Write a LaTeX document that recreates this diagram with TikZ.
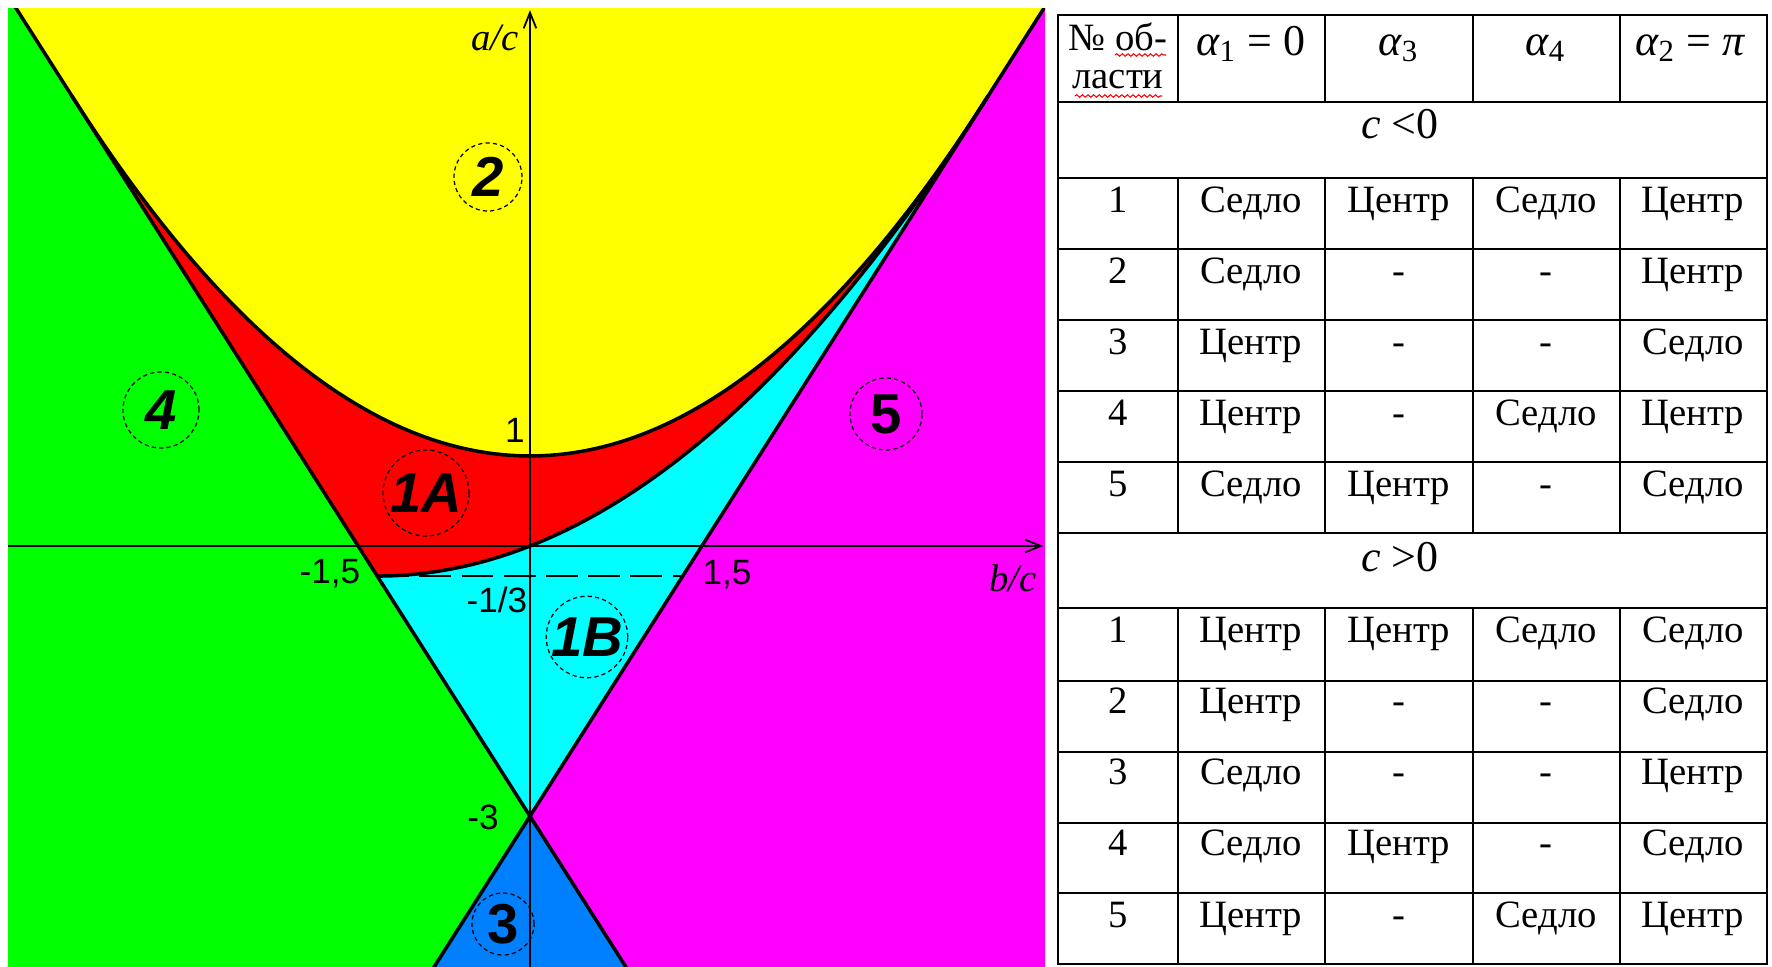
\documentclass[tikz,border=0pt]{standalone}
\usepackage{fontspec}
\setmainfont{Liberation Serif}
\newfontfamily\arial{Liberation Sans}
\usetikzlibrary{arrows.meta,decorations.pathmorphing}
\definecolor{cyel}{RGB}{255,255,0}
\definecolor{cgrn}{RGB}{0,255,0}
\definecolor{cred}{RGB}{255,0,0}
\definecolor{ccyan}{RGB}{0,255,255}
\definecolor{cmag}{RGB}{255,0,255}
\definecolor{cblue}{RGB}{0,128,255}
\begin{document}
\begin{tikzpicture}[x=0.01cm,y=-0.01cm,
  rbound/.style={line width=1pt, black, line join=round},
  axisln/.style={line width=0.6pt, -{Straight Barb[length=4.5pt,width=3.6pt,line width=0.5pt]}},
  rlabel/.style={circle, draw, line width=0.35pt, dash pattern=on 1.2pt off 0.9pt, inner sep=0pt, font=\arial\fontsize{16}{16}\selectfont\bfseries\itshape},
  rlabelup/.style={rlabel, font=\arial\fontsize{16}{16}\selectfont\bfseries},
  ticklab/.style={font=\arial\fontsize{10}{10}\selectfont, inner sep=0pt},
  axlab/.style={font=\fontsize{11}{11}\selectfont\itshape, inner sep=0pt},
  tcell/.style={font=\fontsize{11}{13}\selectfont, anchor=base, inner sep=0pt},
  thead/.style={font=\fontsize{12.5}{13}\selectfont, anchor=base, inner sep=0pt},
  tline/.style={line width=0.6pt},
  wavy/.style={red, line width=0.3pt, decorate, decoration={snake, amplitude=0.35pt, segment length=1.6pt}}
]
\useasboundingbox (0,0) rectangle (1772,966);
\fill[white] (0,0) rectangle (1772,966);

% ---------------- plot ----------------
\begin{scope}
\clip (8,8) rectangle (1045,966);
\begin{scope}[shift={(530,546)}, x=1.145cm, y=0.9cm]
  \fill[cgrn] (-4.7,6.1) -- (-4.55,6.1) -- (0,-3) -- (-0.9,-4.8) -- (-4.7,-4.8) -- cycle;
  \fill[cmag] (4.55,6.1) -- (4.7,6.1) -- (4.7,-4.8) -- (0.9,-4.8) -- (0,-3) -- cycle;
  \fill[cblue] (0,-3) -- (0.9,-4.8) -- (-0.9,-4.8) -- cycle;
  \fill[cyel] (-4.55,6.1) -- (4.55,6.1) -- (0,-3) -- cycle;
  \fill[cred] plot[domain=-4:4,samples=120] (\x,{1+\x*\x/4})
     -- plot[domain=4:-1.3333,samples=120] (\x,{3*\x*\x/16+\x/2}) -- cycle;
  \fill[ccyan] (-1.3333,-0.3333) -- (0,-3) -- (4,5)
     -- plot[domain=4:-1.3333,samples=120] (\x,{3*\x*\x/16+\x/2}) -- cycle;
  % boundaries
  \draw[rbound] (-4.6,6.2) -- (0.95,-4.9);
  \draw[rbound] (4.6,6.2) -- (-0.95,-4.9);
  \draw[rbound] plot[domain=-4:4,samples=120] (\x,{1+\x*\x/4});
  \draw[rbound] plot[domain=-1.3333:4,samples=120] (\x,{3*\x*\x/16+\x/2});
  % dashed level -1/3
  \coordinate (dl0) at (-1.3333,-0.3333);
  \coordinate (dl1) at (1.3333,-0.3333);
  \draw[line width=0.4pt, dash pattern=on 9pt off 3pt] (dl0) -- (dl1);
  % axes
  \coordinate (xa0) at (-4.7,0);
  \coordinate (xa1) at (4.48,0);
  \coordinate (ya0) at (0,-4.8);
  \coordinate (ya1) at (0,5.95);
  \draw[axisln] (xa0) -- (xa1);
  \draw[axisln] (ya0) -- (ya1);
\end{scope}
\end{scope}

% region labels
\node[rlabel, minimum size=0.68cm] (r2) at (488,177) {2};
\node[rlabel, minimum size=0.76cm] (r4) at (161,410) {4};
\node[rlabel, minimum size=0.86cm] (r1a) at (426,493) {1A};
\node[rlabelup, minimum size=0.72cm] (r5) at (886,414) {5};
\node[rlabel, minimum size=0.80cm] (r1b) at (587,637) {1B};
\node[rlabelup, minimum size=0.62cm] (r3) at (503,924) {3};

% axis labels
\node[ticklab] (t1) at (515,430) {1};
\node[ticklab] (tm15) at (330,574) {-1,5};
\node[ticklab] (t15) at (727,575) {1,5};
\node[ticklab] (tm13) at (497,600) {-1/3};
\node[ticklab] (tm3) at (483,817) {-3};
\node[axlab] (lac) at (495,38) {a/c};
\node[axlab] (lbc) at (1013,578) {b/c};

% ---------------- table ----------------
\draw[tline] (1058,15) rectangle (1767,964);
\foreach \yy in {102,178,249,320,391,462,533,608,681,752,823,893}
  \draw[tline] (1058,\yy) -- (1767,\yy);
\foreach \xx in {1178,1325,1473,1620} {
  \draw[tline] (\xx,15) -- (\xx,102);
  \draw[tline] (\xx,178) -- (\xx,533);
  \draw[tline] (\xx,608) -- (\xx,964);
}
\node[tcell] (h0a) at (1118,50) {№ об-};
\node[tcell] (h0b) at (1118,88) {ласти};
\draw[wavy] (1115,55) -- (1166,55);
\draw[wavy] (1075,96) -- (1162,96);
\node[thead] (h1) at (1251,55) {{\itshape α}\textsubscript{1} = 0};
\node[thead] (h3) at (1399,55) {{\itshape α}\textsubscript{3}};
\node[thead] (h4) at (1546,55) {{\itshape α}\textsubscript{4}};
\node[thead] (h2) at (1690,55) {{\itshape α}\textsubscript{2} = {\itshape π}};
\node[thead] (cneg) at (1400,138) {{\itshape c} <0};
\node[thead] (cpos) at (1400,571) {{\itshape c} >0};

\foreach \n/\ca/\cb/\cc/\cd [count=\i from 0] in
  {1/Седло/Центр/Седло/Центр, 2/Седло/-/-/Центр, 3/Центр/-/-/Седло,
   4/Центр/-/Седло/Центр, 5/Седло/Центр/-/Седло} {
  \pgfmathsetmacro\yb{178+71*\i+34}
  \node[tcell] (n\n-0) at (1118,\yb) {\n};
  \node[tcell] (n\n-1) at (1251,\yb) {\ca};
  \node[tcell] (n\n-2) at (1399,\yb) {\cb};
  \node[tcell] (n\n-3) at (1546,\yb) {\cc};
  \node[tcell] (n\n-4) at (1693,\yb) {\cd};
}
\foreach \n/\ca/\cb/\cc/\cd [count=\i from 0] in
  {1/Центр/Центр/Седло/Седло, 2/Центр/-/-/Седло, 3/Седло/-/-/Центр,
   4/Седло/Центр/-/Седло, 5/Центр/-/Седло/Центр} {
  \pgfmathsetmacro\yb{608+71.3*\i+34}
  \node[tcell] (p\n-0) at (1118,\yb) {\n};
  \node[tcell] (p\n-1) at (1251,\yb) {\ca};
  \node[tcell] (p\n-2) at (1399,\yb) {\cb};
  \node[tcell] (p\n-3) at (1546,\yb) {\cc};
  \node[tcell] (p\n-4) at (1693,\yb) {\cd};
}
\end{tikzpicture}
\end{document}
